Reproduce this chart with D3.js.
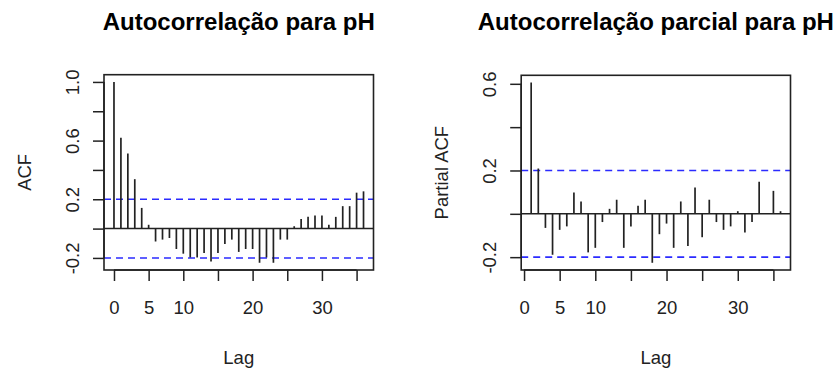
<!DOCTYPE html>
<html>
<head>
<meta charset="utf-8">
<script src="https://cdn.jsdelivr.net/npm/d3@7"></script>
<style>
  body { margin: 0; background: #fff; }
  svg { display: block; font-family: "Liberation Sans", Arial, sans-serif; }
</style>
</head>
<body>
<svg id="chart" width="836" height="372"></svg>
<script>
// ACF of pH, lags 0..36
const acfLags = [0, 1, 2, 3, 4, 5, 6, 7, 8, 9, 10, 11, 12, 13, 14, 15, 16, 17, 18,
  19, 20, 21, 22, 23, 24, 25, 26, 27, 28, 29, 30, 31, 32, 33, 34, 35, 36];
const acfValues = [1.000, 0.620, 0.512, 0.337, 0.141, 0.026, -0.088, -0.075, -0.064,
  -0.139, -0.171, -0.197, -0.197, -0.167, -0.224, -0.167, -0.105, -0.075, -0.159,
  -0.139, -0.139, -0.233, -0.197, -0.233, -0.075, -0.075, 0.016, 0.066, 0.080,
  0.090, 0.090, 0.027, 0.080, 0.153, 0.153, 0.245, 0.254];

// partial ACF, lags 1..36
const pacfLags = [1, 2, 3, 4, 5, 6, 7, 8, 9, 10, 11, 12, 13, 14, 15, 16, 17, 18,
  19, 20, 21, 22, 23, 24, 25, 26, 27, 28, 29, 30, 31, 32, 33, 34, 35, 36];
const pacfValues = [0.606, 0.209, -0.065, -0.189, -0.074, -0.058, 0.098, 0.057, -0.178,
  -0.157, -0.038, 0.023, 0.065, -0.157, -0.058, 0.037, 0.065, -0.226, -0.094,
  -0.045, -0.157, 0.057, -0.149, 0.122, -0.108, 0.065, -0.038, -0.074, -0.058,
  0.012, -0.086, -0.038, 0.148, 0.002, 0.106, 0.012];

const confLimit = 0.2;

const xTicks = [0, 5, 10, 15, 20, 25, 30, 35];
const xTickLabels = [0, 5, 10, 20, 30];
const acfYTicks = [-0.2, 0, 0.2, 0.4, 0.6, 0.8, 1.0];
const acfYTickLabels = ["-0.2", "0.2", "0.6", "1.0"];
const pacfYTicks = [-0.2, 0, 0.2, 0.4, 0.6];
const pacfYTickLabels = ["-0.2", "0.2", "0.6"];

const svg = d3.select("#chart");
const ink = "#222";

function drawPanel(opts) {
  const { left, right, top, bottom, lags, values, title, yLabel, yTicks, yTickLabels } = opts;

  // R-style ranges: data extent padded by 4%
  const xr = d3.extent(lags);
  const xPad = (xr[1] - xr[0]) * 0.04;
  const yr = [Math.min(d3.min(values), -confLimit), Math.max(d3.max(values), confLimit)];
  const yPad = (yr[1] - yr[0]) * 0.04;

  const x = d3.scaleLinear().domain([xr[0] - xPad, xr[1] + xPad]).range([left, right]);
  const y = d3.scaleLinear().domain([yr[0] - yPad, yr[1] + yPad]).range([bottom, top]);

  const g = svg.append("g");

  // confidence bands
  [confLimit, -confLimit].forEach(c => {
    g.append("line")
      .attr("x1", left).attr("x2", right)
      .attr("y1", y(c)).attr("y2", y(c))
      .attr("stroke", "#2b2bff").attr("stroke-width", 1.6)
      .attr("stroke-dasharray", "7,5");
  });

  // zero line
  g.append("line")
    .attr("x1", left).attr("x2", right)
    .attr("y1", y(0)).attr("y2", y(0))
    .attr("stroke", ink).attr("stroke-width", 1.5);

  // spikes
  g.selectAll(".spike")
    .data(lags.map((l, i) => ({ lag: l, v: values[i] })))
    .join("line")
    .attr("class", "spike")
    .attr("x1", d => x(d.lag)).attr("x2", d => x(d.lag))
    .attr("y1", y(0)).attr("y2", d => y(d.v))
    .attr("stroke", ink).attr("stroke-width", 1.7);

  // box
  g.append("rect")
    .attr("x", left).attr("y", top)
    .attr("width", right - left).attr("height", bottom - top)
    .attr("fill", "none").attr("stroke", ink).attr("stroke-width", 1.6);

  // x axis
  const xAxis = g.append("g")
    .attr("transform", `translate(0,${bottom})`)
    .call(d3.axisBottom(x).tickValues(xTicks).tickSize(11).tickPadding(20)
      .tickFormat(d => xTickLabels.includes(d) ? d : ""));
  xAxis.select(".domain").attr("stroke", ink).attr("stroke-width", 1.5)
    .attr("d", `M${x(xTicks[0])},0H${x(xTicks[xTicks.length - 1])}`);
  xAxis.selectAll(".tick line").attr("stroke", ink).attr("stroke-width", 1.5);
  xAxis.selectAll("text").attr("fill", ink).style("font-size", "18.5px");

  // y axis (labels parallel to the axis, plain hyphen minus as in R)
  const yAxis = g.append("g")
    .attr("transform", `translate(${left},0)`)
    .call(d3.axisLeft(y).tickValues(yTicks).tickSize(11)
      .tickFormat(d => {
        const s = d.toFixed(1);
        return yTickLabels.includes(s) ? s : "";
      }));
  yAxis.select(".domain").attr("stroke", ink).attr("stroke-width", 1.5)
    .attr("d", `M0,${y(yTicks[0])}V${y(yTicks[yTicks.length - 1])}`);
  yAxis.selectAll(".tick line").attr("stroke", ink).attr("stroke-width", 1.5);
  yAxis.selectAll("text")
    .attr("fill", ink).style("font-size", "18.5px")
    .attr("x", null).attr("dy", null)
    .attr("text-anchor", "middle")
    .attr("transform", "translate(-25,0) rotate(-90)");

  // titles
  g.append("text")
    .attr("x", (left + right) / 2).attr("y", 29.5)
    .attr("text-anchor", "middle")
    .style("font-size", "24px").style("font-weight", "bold")
    .attr("fill", "#000")
    .text(title);

  g.append("text")
    .attr("x", (left + right) / 2).attr("y", 363.5)
    .attr("text-anchor", "middle")
    .style("font-size", "18.5px").attr("fill", ink)
    .text("Lag");

  g.append("text")
    .attr("transform", `translate(${left - 73},${(top + bottom) / 2}) rotate(-90)`)
    .attr("text-anchor", "middle")
    .style("font-size", "18.5px").attr("fill", ink)
    .text(yLabel);
}

drawPanel({
  left: 104, right: 373.5, top: 74.7, bottom: 270,
  lags: acfLags, values: acfValues,
  title: "Autocorrelação para pH", yLabel: "ACF",
  yTicks: acfYTicks, yTickLabels: acfYTickLabels
});

drawPanel({
  left: 521.2, right: 790.5, top: 75.3, bottom: 270,
  lags: pacfLags, values: pacfValues,
  title: "Autocorrelação parcial para pH", yLabel: "Partial ACF",
  yTicks: pacfYTicks, yTickLabels: pacfYTickLabels
});
</script>
</body>
</html>
